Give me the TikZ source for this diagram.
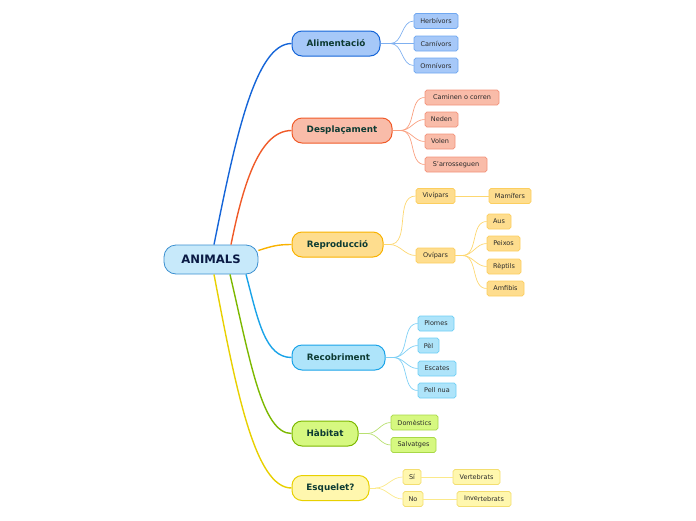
\documentclass[tikz,border=0pt]{standalone}
\usepackage{fontspec}
\setmainfont{DejaVu Sans}
\usetikzlibrary{calc}
\definecolor{txtmain}{HTML}{0D3B33}
\definecolor{txtleaf}{HTML}{2A2A2A}
\definecolor{rootfill}{HTML}{C7E9FA}
\definecolor{rootdraw}{HTML}{3A8FD0}
\definecolor{rootText}{HTML}{0A1A44}
% branch colours
\definecolor{bA}{HTML}{1565D8}\definecolor{fA}{HTML}{A6C8F8}\definecolor{lA}{HTML}{6FA7F0}\definecolor{cA}{HTML}{7FB0F0}
\definecolor{bB}{HTML}{F05A28}\definecolor{fB}{HTML}{F9BCA9}\definecolor{lB}{HTML}{F3937A}\definecolor{cB}{HTML}{F9A080}
\definecolor{bC}{HTML}{F9B200}\definecolor{fC}{HTML}{FEDD8E}\definecolor{lC}{HTML}{FCCE5E}\definecolor{cC}{HTML}{FDD770}
\definecolor{bD}{HTML}{1AA3E8}\definecolor{fD}{HTML}{AEE4FA}\definecolor{lD}{HTML}{6FCFF5}\definecolor{cD}{HTML}{7FD0F5}
\definecolor{bE}{HTML}{7CB800}\definecolor{fE}{HTML}{D6F880}\definecolor{lE}{HTML}{A8D848}\definecolor{cE}{HTML}{B8E070}
\definecolor{bF}{HTML}{E8D000}\definecolor{fF}{HTML}{FFF7AE}\definecolor{lF}{HTML}{F3DE70}\definecolor{cF}{HTML}{FBE98A}
\begin{document}
\begin{tikzpicture}[x=1pt,y=-1pt,
  mainbox/.style={draw, line width=1pt, rounded corners=10pt, minimum height=25pt, inner sep=0pt,
     font=\fontsize{8.8}{10}\selectfont\bfseries, text=txtmain},
  leafbox/.style={draw, line width=0.7pt, rounded corners=1.8pt, minimum height=15pt, inner sep=0pt,
     font=\fontsize{6.5}{7.5}\selectfont, text=txtleaf},
  trunk/.style={line width=1.4pt},
  twig/.style={line width=0.7pt}
]
\useasboundingbox (0,0) rectangle (696,520);

% root
\node[draw=rootdraw, fill=rootfill, line width=0.8pt, rounded corners=12pt, minimum width=94pt, minimum height=29pt, inner sep=0pt,
  font=\fontsize{11.6}{13}\selectfont\bfseries, text=rootText] (root) at (211,259.5) {ANIMALS};

% main nodes
\node[mainbox, draw=bA, fill=fA, minimum width=88pt] (alim) at (336,43.5) {Alimentació};
\node[mainbox, draw=bB, fill=fB, minimum width=100pt] (desp) at (342,130.5) {Desplaçament};
\node[mainbox, draw=bC, fill=fC, minimum width=91pt] (repr) at (337.5,244.5) {Reproducció};
\node[mainbox, draw=bD, fill=fD, minimum width=93pt] (reco) at (338.5,357.5) {Recobriment};
\node[mainbox, draw=bE, fill=fE, minimum width=66pt] (habi) at (325,433.5) {Hàbitat};
\node[mainbox, draw=bF, fill=fF, minimum width=77pt] (esqu) at (330.5,488) {Esquelet?};

% trunk connectors
\draw[trunk, bA] ([xshift=3pt]root.north) .. controls (235,140) and (255,43.5) .. (alim.west);
\draw[trunk, bB] ([xshift=20pt]root.north) .. controls (242,190) and (258,130.5) .. (desp.west);
\draw[trunk, bC] ([yshift=9pt]root.east) .. controls (272,246) and (278,244.5) .. (repr.west);
\draw[trunk, bD] ([xshift=35pt]root.south) .. controls (258,320) and (265,357.5) .. (reco.west);
\draw[trunk, bE] ([xshift=19pt]root.south) .. controls (250,360) and (262,433.5) .. (habi.west);
\draw[trunk, bF] ([xshift=3pt]root.south) .. controls (236,390) and (255,488) .. (esqu.west);

% leaves: Alimentacio
\node[leafbox, draw=lA, fill=fA, minimum width=44pt] (herb) at (436,21) {Herbívors};
\node[leafbox, draw=lA, fill=fA, minimum width=44pt] (carn) at (436,43.5) {Carnívors};
\node[leafbox, draw=lA, fill=fA, minimum width=44pt] (omni) at (436,65.5) {Omnívors};
\coordinate (sA) at ([xshift=10pt]alim.east);
\draw[twig, cA] (alim.east) -- (sA);
\foreach \n in {herb,carn,omni} \draw[twig, cA] (sA) to[out=0,in=180] (\n.west);

% leaves: Desplacament
\node[leafbox, draw=lB, fill=fB, minimum width=74pt] (cami) at (462,97.5) {Caminen o corren};
\node[leafbox, draw=lB, fill=fB, minimum width=33pt] (nede) at (441.5,119.5) {Neden};
\node[leafbox, draw=lB, fill=fB, minimum width=30pt] (vole) at (440,141.5) {Volen};
\node[leafbox, draw=lB, fill=fB, minimum width=62pt] (arro) at (456,164.5) {S'arrosseguen};
\coordinate (sB) at ([xshift=8pt]desp.east);
\draw[twig, cB] (desp.east) -- (sB);
\foreach \n in {cami,nede,vole,arro} \draw[twig, cB] (sB) to[out=0,in=180] (\n.west);

% leaves: Reproduccio
\node[leafbox, draw=lC, fill=fC, minimum width=39pt] (vivi) at (435.5,196) {Vivípars};
\node[leafbox, draw=lC, fill=fC, minimum width=42pt] (mami) at (510,196) {Mamífers};
\node[leafbox, draw=lC, fill=fC, minimum width=39pt] (ovip) at (435.5,255.5) {Ovípars};
\node[leafbox, draw=lC, fill=fC, minimum width=24pt] (aus) at (499,221.5) {Aus};
\node[leafbox, draw=lC, fill=fC, minimum width=33pt] (peix) at (503.5,243.5) {Peixos};
\node[leafbox, draw=lC, fill=fC, minimum width=34pt] (rept) at (504,266.5) {Rèptils};
\node[leafbox, draw=lC, fill=fC, minimum width=37pt] (amfi) at (505.5,288.5) {Amfibis};
\coordinate (sC) at ([xshift=6pt]repr.east);
\draw[twig, cC] (repr.east) -- (sC);
\foreach \n in {vivi,ovip} \draw[twig, cC] (sC) to[out=0,in=180] (\n.west);
\draw[twig, cC] (vivi.east) -- (mami.west);
\coordinate (sC2) at ([xshift=7pt]ovip.east);
\draw[twig, cC] (ovip.east) -- (sC2);
\foreach \n in {aus,peix,rept,amfi} \draw[twig, cC] (sC2) to[out=0,in=180] (\n.west);

% leaves: Recobriment
\node[leafbox, draw=lD, fill=fD, minimum width=36pt] (plom) at (436,323.5) {Plomes};
\node[leafbox, draw=lD, fill=fD, minimum width=21pt] (pel) at (428.5,345.5) {Pèl};
\node[leafbox, draw=lD, fill=fD, minimum width=38pt] (esca) at (437,368.5) {Escates};
\node[leafbox, draw=lD, fill=fD, minimum width=38pt] (pell) at (437,390.5) {Pell nua};
\coordinate (sD) at ([xshift=8pt]reco.east);
\draw[twig, cD] (reco.east) -- (sD);
\foreach \n in {plom,pel,esca,pell} \draw[twig, cD] (sD) to[out=0,in=180] (\n.west);

% leaves: Habitat
\node[leafbox, draw=lE, fill=fE, minimum width=47pt] (dome) at (414.5,422.5) {Domèstics};
\node[leafbox, draw=lE, fill=fE, minimum width=45pt] (salv) at (413.5,445) {Salvatges};
\coordinate (sE) at ([xshift=9pt]habi.east);
\draw[twig, cE] (habi.east) -- (sE);
\foreach \n in {dome,salv} \draw[twig, cE] (sE) to[out=0,in=180] (\n.west);

% leaves: Esquelet
\node[leafbox, draw=lF, fill=fF, minimum width=18pt] (si) at (412,477) {Sí};
\node[leafbox, draw=lF, fill=fF, minimum width=20pt] (no) at (413,499) {No};
\node[leafbox, draw=lF, fill=fF, minimum width=47pt] (vert) at (476.5,477) {Vertebrats};
\node[leafbox, draw=lF, fill=fF, minimum width=54pt] (inve) at (484,499) {Inve\raisebox{-0.8pt}{rtebrats}};
\coordinate (sF) at ([xshift=6pt]esqu.east);
\draw[twig, cF] (esqu.east) -- (sF);
\foreach \n in {si,no} \draw[twig, cF] (sF) to[out=0,in=180] (\n.west);
\draw[twig, cF] (si.east) -- (vert.west);
\draw[twig, cF] (no.east) -- (inve.west);
\end{tikzpicture}
\end{document}
